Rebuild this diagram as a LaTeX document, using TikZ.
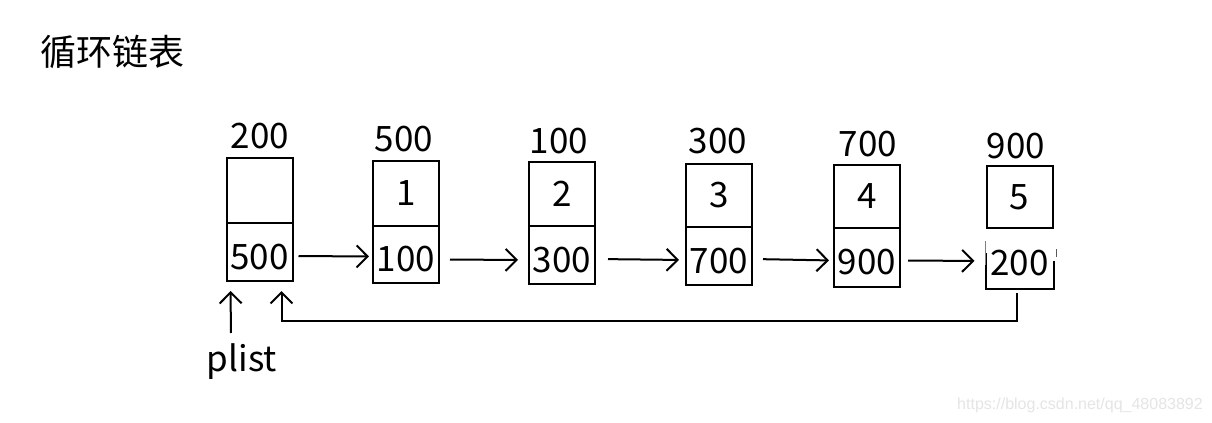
\documentclass[tikz,border=0pt]{standalone}
\usepackage{fontspec}
\newfontfamily\cjk{Noto Sans CJK SC}
\setmainfont{Noto Sans CJK SC}
\usetikzlibrary{arrows.meta}
\tikzset{
  cell/.style={draw, line width=1pt, minimum width=33pt, inner sep=0pt, font=\fontsize{17.5}{20}\selectfont},
  bot/.style={cell, text height=17pt, text depth=0pt},
  addr/.style={inner sep=0pt, font=\fontsize{17.5}{20}\selectfont},
  tip/.style={-{Straight Barb[length=5.5pt,width=11pt,line width=1pt]}},
  arr/.style={line width=1pt, tip},
}
\begin{document}
\begin{tikzpicture}[x=0.5pt,y=-0.5pt]
\useasboundingbox[fill=white] (0,0) rectangle (1212,423);
\node[font=\fontsize{18}{20}\selectfont] (title) at (112,52) {循环链表};
% box 0
\node[cell, minimum height=32.5pt] (t0) at (259.5,190.5) {};
\node[bot, minimum height=29pt] (b0) at (259.5,252) {500};
\node[addr] (a0) at (260,136) {200};
% box 1
\node[cell, minimum height=32.5pt] (t1) at (406,193.5) {1};
\node[bot, minimum height=28.5pt] (b1) at (406,254.5) {100};
\node[addr] (a1) at (404,139) {500};
% box 2
\node[cell, minimum height=32pt] (t2) at (562,194) {2};
\node[bot, minimum height=29pt] (b2) at (562,255) {300};
\node[addr] (a2) at (559,141) {100};
% box 3
\node[cell, minimum height=31.5pt] (t3) at (719,195.5) {3};
\node[bot, minimum height=29pt] (b3) at (719,256) {700};
\node[addr] (a3) at (718,141) {300};
% box 4
\node[cell, minimum height=31.5pt] (t4) at (867,196.5) {4};
\node[bot, minimum height=29.5pt] (b4) at (867,257.5) {900};
\node[addr] (a4) at (868,144) {700};
% box 5
\node[cell, minimum height=31pt] (t5) at (1019.5,197) {5};
\node[bot, draw=none, minimum height=30pt] (b5) at (1019.5,258) {200};
\node[addr] (a5) at (1016,146) {900};
\draw[line width=1pt] ([yshift=-13pt]b5.north west) -- (b5.south west) -- (b5.south east) -- ([yshift=-17pt]b5.north east);
\draw[line width=0.6pt, gray] ([yshift=-19pt]b5.north west) -- ([yshift=-7pt]b5.north west);
\draw[line width=0.8pt, gray!70!black] ([xshift=1.5pt,yshift=-11pt]b5.north east) -- ([xshift=1.5pt,yshift=-15pt]b5.north east);
% next pointers
\draw[arr, shorten <=2.5pt, shorten >=1.5pt] ([yshift=-2pt]b0.east) -- ([yshift=-1pt]b1.west);
\draw[arr, shorten <=5pt, shorten >=5pt] ([yshift=-2.5pt]b1.east) -- ([yshift=-2.5pt]b2.west);
\draw[arr, shorten <=6pt, shorten >=3pt] ([yshift=-2pt]b2.east) -- ([yshift=-2pt]b3.west);
\draw[arr, shorten <=5pt, shorten >=2pt] ([yshift=-1.5pt]b3.east) -- ([yshift=-1.5pt]b4.west);
\draw[arr, shorten <=3.5pt, shorten >=5.5pt] ([yshift=-1.5pt]b4.east) -- ([yshift=-1.5pt]b5.west);
% return pointer
\coordinate (ret) at (0,321);
\coordinate (r5) at ([xshift=-1.5pt,yshift=-2pt]b5.south);
\coordinate (r0) at ([xshift=-6pt,yshift=-4.5pt]b0.south east);
\draw[arr] (r5) -- (r5 |- ret) -- (r0 |- ret) -- (r0);
% plist
\node[addr] (plist) at (242,362) {plist};
\coordinate (p0) at ([xshift=2.5pt,yshift=-4.5pt]b0.south west);
\coordinate (ps) at (231,333);
\draw[arr] (ps) -- (p0);
\node[font=\fontsize{8}{10}\selectfont\fontspec{Liberation Sans}, text=gray!20] (wm) at (1080,405) {https://blog.csdn.net/qq\_48083892};
\end{tikzpicture}
\end{document}
